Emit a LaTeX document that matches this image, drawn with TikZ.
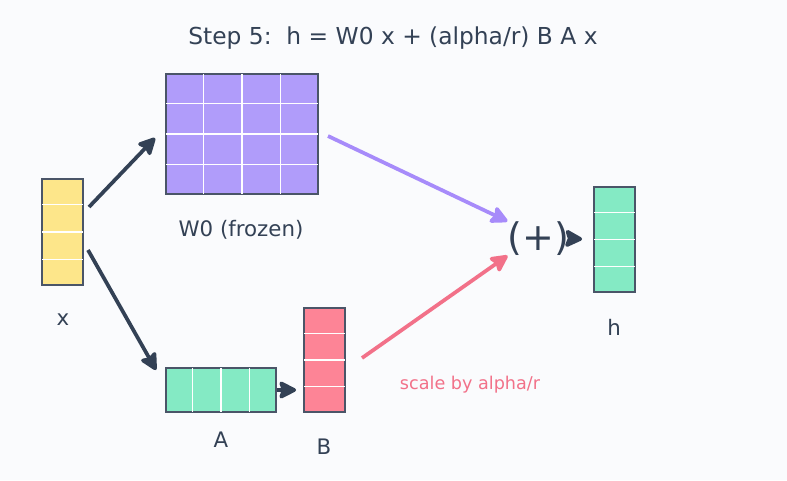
\documentclass[tikz,border=0pt]{standalone}
\usepackage{fontspec}
\setmainfont{DejaVu Sans}
\usetikzlibrary{arrows.meta,calc}
\definecolor{bgc}{HTML}{FAFBFD}
\definecolor{inkc}{HTML}{334155}
\definecolor{edgec}{HTML}{4A5568}
\definecolor{yelc}{HTML}{FDE68A}
\definecolor{violc}{HTML}{B09CFA}
\definecolor{violarr}{HTML}{A78BFA}
\definecolor{greenc}{HTML}{84EAC4}
\definecolor{pinkc}{HTML}{FD8496}
\definecolor{pinkarr}{HTML}{F27189}
\begin{document}
\begin{tikzpicture}[x=0.75pt,y=0.75pt,yscale=-1,xscale=1,
  mat/.style={draw=edgec,line width=1.9pt,inner sep=0pt},
  cell/.style={white,line width=0.9pt,shorten <=0.95pt,shorten >=0.95pt},
  arr/.style={line width=2.8pt,-{Stealth[length=15pt,width=15pt,inset=2.5pt,round]}},
  lbl/.style={text=inkc,font=\fontsize{16}{18}\selectfont}]
%set diagram size 787 x 480
\fill[bgc] (0,0) rectangle (787,480);

% Text Node
\node[text=inkc,font=\fontsize{17.5}{21}\selectfont] (title) at (393,38.5) {Step 5:\ \ h = W0 x + (alpha/r) B A x};

%Shape: Rectangle (x)
\node[mat,fill=yelc,minimum width=30.75pt,minimum height=79.5pt] (xv) at (62.5,232) {};
\foreach \i in {1,2,3}
  \draw[cell] ($(xv.north west)!\i/4!(xv.south west)$) -- ($(xv.north east)!\i/4!(xv.south east)$);
%Shape: Rectangle (W0)
\node[mat,fill=violc,minimum width=114pt,minimum height=90pt] (W0) at (242,134) {};
\foreach \i in {1,2,3} {
  \draw[cell] ($(W0.north west)!\i/4!(W0.north east)$) -- ($(W0.south west)!\i/4!(W0.south east)$);
  \draw[cell] ($(W0.north west)!\i/4!(W0.south west)$) -- ($(W0.north east)!\i/4!(W0.south east)$);
}
%Shape: Rectangle (A)
\node[mat,fill=greenc,minimum width=82.5pt,minimum height=33pt] (A) at (221,390) {};
\foreach \i in {1,2,3}
  \draw[cell] ($(A.north west)!\i/4!(A.north east)$) -- ($(A.south west)!\i/4!(A.south east)$);
%Shape: Rectangle (B)
\node[mat,fill=pinkc,minimum width=30.75pt,minimum height=78pt] (B) at (324.5,360) {};
\foreach \i in {1,2,3}
  \draw[cell] ($(B.north west)!\i/4!(B.south west)$) -- ($(B.north east)!\i/4!(B.south east)$);
%Shape: Rectangle (h)
\node[mat,fill=greenc,minimum width=30.75pt,minimum height=78.75pt] (h) at (614.5,239.5) {};
\foreach \i in {1,2,3}
  \draw[cell] ($(h.north west)!\i/4!(h.south west)$) -- ($(h.north east)!\i/4!(h.south east)$);

% Text Node
\node[text=inkc,font=\fontsize{28.5}{30}\selectfont,inner sep=0pt] (plus) at (538.5,238.5) {(+)};

%Straight Lines
\coordinate (xv-up) at (89,207);
\coordinate (W0-in) at (155,138);
\coordinate (xv-dn) at (88,250);
\coordinate (A-in) at (156,370);
\coordinate (W0-out) at (328,136);
\coordinate (B-out) at (362,358);
\draw[arr,inkc] (xv-up) -- (W0-in);
\draw[arr,inkc] (xv-dn) -- (A-in);
\draw[arr,inkc,shorten >=5pt] (A.east) -- (A.east -| B.west);
\draw[arr,violarr] (W0-out) -- (plus.north west);
\draw[arr,pinkarr] (B-out) -- (plus.south west);
\draw[arr,inkc,shorten >=8pt,shorten <=-3pt] (plus.east) -- (h.west);

% Text Node
\node[lbl] (xlbl) at (63,320) {x};
\node[lbl] (W0lbl) at (241,230) {W0 (frozen)};
\node[lbl] (Albl) at (221,440) {A};
\node[lbl] (Blbl) at (324,447) {B};
\node[lbl] (hlbl) at (614,327) {h};
\node[text=pinkarr,font=\fontsize{13.2}{15}\selectfont] (scale) at (470,385) {scale by alpha/r};

\end{tikzpicture}
\end{document}
